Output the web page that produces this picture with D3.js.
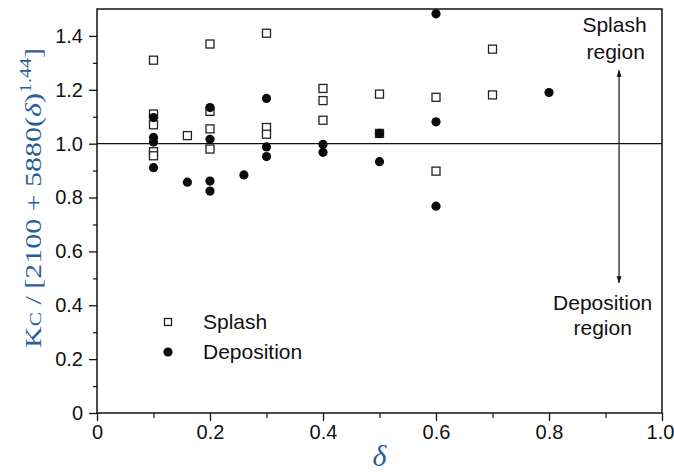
<!DOCTYPE html>
<html>
<head>
<meta charset="utf-8">
<script src="https://cdn.jsdelivr.net/npm/d3@7"></script>
<style>
  html, body { margin: 0; padding: 0; background: #fff; }
  svg { display: block; }
  .tick-label { font-family: "Liberation Sans", Arial, Helvetica, sans-serif; font-size: 20px; fill: #111; }
  .note { font-family: "Liberation Sans", Arial, Helvetica, sans-serif; font-size: 21px; fill: #111; }
  .axis-title { font-family: "Liberation Serif", "Times New Roman", serif; fill: #2b5d9b; }
</style>
</head>
<body>
<svg id="chart" width="674" height="472"></svg>
<script>
// splash (open squares) and deposition (filled circles)
const splashDelta = [0.1, 0.1, 0.1, 0.1, 0.1, 0.16, 0.2, 0.2, 0.2, 0.2, 0.3, 0.3, 0.3, 0.4, 0.4, 0.4, 0.5, 0.5, 0.6, 0.6, 0.7, 0.7];
const splashK = [1.31, 1.11, 1.07, 0.97, 0.955, 1.03, 1.37, 1.12, 1.055, 0.98, 1.41, 1.06, 1.035, 1.205, 1.16, 1.087, 1.184, 1.038, 1.172, 0.898, 1.351, 1.181];

const depositionDelta = [0.1, 0.1, 0.1, 0.1, 0.16, 0.2, 0.2, 0.2, 0.2, 0.26, 0.3, 0.3, 0.3, 0.4, 0.4, 0.5, 0.5, 0.6, 0.6, 0.6, 0.8];
const depositionK = [1.097, 1.023, 1.006, 0.911, 0.857, 1.134, 1.016, 0.861, 0.824, 0.884, 1.168, 0.988, 0.952, 0.997, 0.968, 1.038, 0.933, 1.482, 1.081, 0.768, 1.19];

const xTicks = [0, 0.2, 0.4, 0.6, 0.8, 1.0];
const xTickLabels = ["0", "0.2", "0.4", "0.6", "0.8", "1.0"];
const yTicks = [0, 0.2, 0.4, 0.6, 0.8, 1.0, 1.2, 1.4];
const yTickLabels = ["0", "0.2", "0.4", "0.6", "0.8", "1.0", "1.2", "1.4"];
const legendNames = ["Splash", "Deposition"];

const width = 674, height = 472;
const margin = { top: 9, right: 12, bottom: 59, left: 97 };
const svg = d3.select("#chart");

const x = d3.scaleLinear().domain([0, 1]).range([margin.left, width - margin.right]);
const y = d3.scaleLinear().domain([0, 1.5]).range([height - margin.bottom, margin.top]);

// frame
svg.append("rect")
    .attr("x", x(0)).attr("y", y(1.5))
    .attr("width", x(1) - x(0)).attr("height", y(0) - y(1.5))
    .attr("fill", "none").attr("stroke", "#111").attr("stroke-width", 1.5);

// axes: major ticks with labels, minor ticks between
const xAxis = d3.axisBottom(x).tickValues(xTicks).tickSize(8)
    .tickFormat((d, i) => xTickLabels[i]).tickPadding(4);
const gx = svg.append("g").attr("transform", `translate(0,${y(0)})`).call(xAxis);
gx.select(".domain").remove();
gx.selectAll(".tick line").attr("stroke", "#111").attr("stroke-width", 1.3);
gx.selectAll(".tick text").attr("class", "tick-label").attr("font-size", null).attr("font-family", null);
// last label sits right at the page edge
gx.selectAll(".tick text").filter(d => d === 1).attr("dx", -2);

const xMinor = d3.axisBottom(x).tickValues(d3.range(0.1, 1, 0.2)).tickSize(5).tickFormat("");
const gxm = svg.append("g").attr("transform", `translate(0,${y(0)})`).call(xMinor);
gxm.select(".domain").remove();
gxm.selectAll(".tick line").attr("stroke", "#111").attr("stroke-width", 1.2);

const yAxis = d3.axisLeft(y).tickValues(yTicks).tickSize(8)
    .tickFormat((d, i) => yTickLabels[i]).tickPadding(6);
const gy = svg.append("g").attr("transform", `translate(${x(0)},0)`).call(yAxis);
gy.select(".domain").remove();
gy.selectAll(".tick line").attr("stroke", "#111").attr("stroke-width", 1.3);
gy.selectAll(".tick text").attr("class", "tick-label").attr("font-size", null).attr("font-family", null);

const yMinor = d3.axisLeft(y).tickValues(d3.range(0.1, 1.5, 0.2)).tickSize(4).tickFormat("");
const gym = svg.append("g").attr("transform", `translate(${x(0)},0)`).call(yMinor);
gym.select(".domain").remove();
gym.selectAll(".tick line").attr("stroke", "#111").attr("stroke-width", 1.2);

// reference line at 1.0
svg.append("line")
    .attr("x1", x(0)).attr("x2", x(1)).attr("y1", y(1)).attr("y2", y(1))
    .attr("stroke", "#111").attr("stroke-width", 1.2);

// data
const splash = splashDelta.map((d, i) => ({ d, k: splashK[i] }));
const deposition = depositionDelta.map((d, i) => ({ d, k: depositionK[i] }));
const sq = 8;

svg.append("g").selectAll("rect")
    .data(splash).join("rect")
    .attr("x", p => x(p.d) - sq / 2).attr("y", p => y(p.k) - sq / 2)
    .attr("width", sq).attr("height", sq)
    .attr("fill", "#fff").attr("stroke", "#222").attr("stroke-width", 1.3);

svg.append("g").selectAll("circle")
    .data(deposition).join("circle")
    .attr("cx", p => x(p.d)).attr("cy", p => y(p.k)).attr("r", 4.6)
    .attr("fill", "#0a0a0a");

// double arrow between the two regions
const defs = svg.append("defs");
defs.append("marker").attr("id", "head")
    .attr("viewBox", "0 0 10 10").attr("refX", 9).attr("refY", 5)
    .attr("markerWidth", 7).attr("markerHeight", 7).attr("markerUnits", "userSpaceOnUse")
    .attr("orient", "auto-start-reverse")
    .append("path").attr("d", "M0,1.5 L10,5 L0,8.5 Z").attr("fill", "#111");

svg.append("line")
    .attr("x1", x(0.924)).attr("x2", x(0.924))
    .attr("y1", y(1.272)).attr("y2", y(0.484))
    .attr("stroke", "#111").attr("stroke-width", 1.2)
    .attr("marker-start", "url(#head)").attr("marker-end", "url(#head)");

const notes = [
    { t: "Splash", cx: 0.916, k: 1.415 },
    { t: "region", cx: 0.918, k: 1.315 },
    { t: "Deposition", cx: 0.895, k: 0.383 },
    { t: "region", cx: 0.895, k: 0.288 }
];
svg.append("g").selectAll("text")
    .data(notes).join("text")
    .attr("class", "note")
    .attr("x", n => x(n.cx)).attr("y", n => y(n.k))
    .attr("text-anchor", "middle")
    .text(n => n.t);

// legend
const legend = svg.append("g");
legendNames.forEach((name, i) => {
    const ly = 322 + i * 30;
    if (i === 0) {
        legend.append("rect").attr("x", 168 - 3.5).attr("y", ly - 3.5).attr("width", 7).attr("height", 7)
            .attr("fill", "#fff").attr("stroke", "#222").attr("stroke-width", 1.3);
    } else {
        legend.append("circle").attr("cx", 168).attr("cy", ly).attr("r", 4.6).attr("fill", "#0a0a0a");
    }
    legend.append("text").attr("class", "note").attr("x", 203).attr("y", ly + 7).text(name);
});

// axis titles
svg.append("text")
    .attr("class", "axis-title")
    .attr("x", (x(0) + x(1)) / 2).attr("y", 466)
    .attr("text-anchor", "middle")
    .attr("font-size", 30).attr("font-style", "italic")
    .text("δ");

const yTitle = svg.append("g").attr("transform", "translate(41,198) rotate(-90)");
const yt = yTitle.append("text").attr("class", "axis-title").attr("font-size", 24).attr("text-anchor", "middle");
yt.append("tspan").text("K");
yt.append("tspan").attr("font-size", 17).text("C");
yt.append("tspan").text(" / [2100 + 5880(");
yt.append("tspan").attr("font-style", "italic").text("δ");
yt.append("tspan").text(")");
yt.append("tspan").attr("font-size", 16).attr("dy", -10).text("1.44");
yt.append("tspan").attr("dy", 10).text("]");
const len = yt.node().getComputedTextLength();
yt.attr("transform", `scale(${300 / len},1)`);
</script>
</body>
</html>
